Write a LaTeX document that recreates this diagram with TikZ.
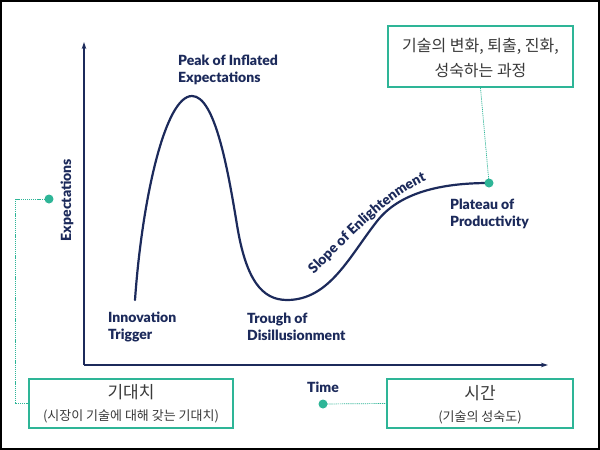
\documentclass[tikz,border=0pt]{standalone}
\usepackage{fontspec}
\setmainfont{Lato}[BoldFont={Lato Black}]
\newfontfamily\kr{Noto Sans CJK KR}
\usetikzlibrary{decorations.text,arrows.meta}
\definecolor{navy}{HTML}{1C2A5B}
\definecolor{accent}{HTML}{2EB597}
\definecolor{krtext}{HTML}{3A3A3A}
\begin{document}
\begin{tikzpicture}[x=1pt,y=-1pt,
  lbl/.style={font=\bfseries\fontsize{14}{17}\selectfont, text=navy, align=left, inner sep=0pt, anchor=west},
  box/.style={draw=accent, line width=2pt, fill=white, inner sep=0pt},
  dotline/.style={accent, line width=0.7pt, dash pattern=on 1.2pt off 0.9pt},
  dot/.style={circle, fill=accent, minimum size=9pt, inner sep=0pt},
  krtop/.style={font=\kr\fontsize{16}{25}\selectfont, text=krtext, align=center, inner sep=0pt},
  krbig/.style={font=\kr\fontsize{17}{20}\selectfont, text=krtext, inner sep=0pt},
  krsmall/.style={font=\kr\fontsize{13}{15}\selectfont, text=krtext, inner sep=0pt},
  axis/.style={navy, line width=2pt, -{Stealth[length=7pt,width=4.5pt]}},
  curve/.style={navy, line width=2.2pt, line cap=round}]
\useasboundingbox (0,0) rectangle (600,450);
\fill[white] (0,0) rectangle (600,450);
\draw[black, line width=2pt] (1,1) rectangle (599,449);

% axes
\coordinate (origin) at (84,365);
\coordinate (ytop) at (84,42);
\coordinate (xend) at (548,365);
\draw[axis] (origin) -- (ytop);
\draw[axis] (origin) -- (xend);

% hype curve
\draw[curve] (135,300) .. controls (142,200) and (165,96) .. (192,96)
  .. controls (215,96) and (228,170) .. (237,225)
  .. controls (246,280) and (262,300) .. (287,300)
  .. controls (330,300) and (350,255) .. (378,220)
  .. controls (400,193) and (440,183) .. (489,183);

% slope label along the curve
\path[decorate, decoration={text along path, text color=navy,
  text={|\bfseries\fontsize{14}{14}\selectfont|Slope of Enlightenment},
  text align=center}]
  (301,286) .. controls (330,263) and (390,186) .. (443,175);

% labels
\node[lbl] (peak) at (178,69.5) {Peak of Inflated\\Expectations};
\node[lbl] (trigger) at (108,326.5) {Innovation\\Trigger};
\node[lbl] (trough) at (247,326.5) {Trough of\\Disillusionment};
\node[lbl] (plateau) at (450,214) {Plateau of\\Productivity};
\node[lbl] (time) at (307,387) {Time};
\node[lbl, anchor=center, rotate=90] (expect) at (67,200) {Expectations};

% boxes
\node[box, minimum width=185pt, minimum height=61pt] (topbox) at (480.5,56.5) {};
\node[krtop] (toptext) at (480.5,57.5) {기술의 변화, 퇴출, 진화,\\성숙하는 과정};
\node[box, minimum width=204pt, minimum height=49pt] (lbox) at (131,403.5) {};
\node[krbig] (ltitle) at (131,392) {기대치};
\node[krsmall] (lsub) at (131,416.5) {(시장이 기술에 대해 갖는 기대치)};
\node[box, minimum width=186pt, minimum height=49pt] (rbox) at (480,403.5) {};
\node[krbig] (rtitle) at (480,393) {시간};
\node[krsmall] (rsub) at (480,417.5) {(기술의 성숙도)};

% dots and dotted connectors
\coordinate (pdot) at (489,183);
\coordinate (ldot) at (49,199);
\coordinate (rdot) at (323,404);
\coordinate (lc1) at (15,199);
\coordinate (lc2) at (15,403.5);
\draw[dotline] (topbox.south) -- (pdot);
\draw[dotline] (ldot) -- (lc1) -- (lc2) -- (lbox.west);
\draw[dotline] (rdot) -- (rbox.west);
\node[dot] (pdotn) at (pdot) {};
\node[dot] (ldotn) at (ldot) {};
\node[dot] (rdotn) at (rdot) {};
\end{tikzpicture}
\end{document}
